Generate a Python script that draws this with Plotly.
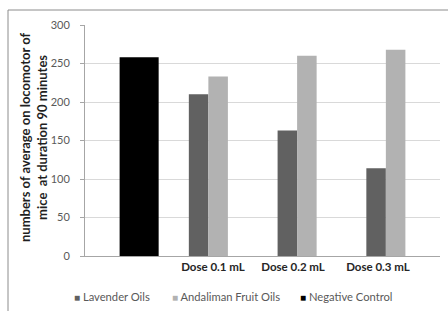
import plotly.graph_objects as go

categories = ["", "Dose 0.1 mL", "Dose 0.2 mL", "Dose 0.3 mL"]
series_names = ["Lavender Oils", "Andaliman Fruit Oils", "Negative Control"]
lavender_oils = [None, 210, 163, 114]
andaliman_fruit_oils = [None, 233, 260, 268]
negative_control = [258, None, None, None]
y_ticks = [0, 50, 100, 150, 200, 250, 300]

x_idx = list(range(len(categories)))
colors = ["#616161", "#b2b2b2", "#000000"]

L, R, T, B = 85, 8, 25, 55
W, H = 448, 311
pw, ph = W - L - R, H - T - B


def px_x(p):
    return (p - L) / pw


def px_y(p):
    return (H - B - p) / ph


fig = go.Figure()
fig.add_trace(go.Bar(x=x_idx, y=lavender_oils, name=series_names[0], marker_color=colors[0],
                     offset=-0.33, width=0.22, marker_line_width=0))
fig.add_trace(go.Bar(x=x_idx, y=andaliman_fruit_oils, name=series_names[1], marker_color=colors[1],
                     offset=-0.11, width=0.22, marker_line_width=0))
fig.add_trace(go.Bar(x=x_idx, y=negative_control, name=series_names[2], marker_color=colors[2],
                     offset=-0.11, width=0.44, marker_line_width=0))

label_shift = [0, -0.058, -0.156, -0.199]
tickvals = [i + s for i, s in zip(x_idx, label_shift)][1:]
ticktext = categories[1:]

annotations = [dict(text="numbers of average on locomotor of<br>mice  at duration 90 minutes",
                    xref="paper", yref="paper", x=px_x(33), y=px_y(138),
                    xanchor="center", yanchor="middle", textangle=-90, showarrow=False,
                    font=dict(family="Lato, sans-serif", size=13, color="#1f1f1f", weight="bold"))]

legend_x = [72, 170, 298]
for nm, col, lx in zip(series_names, colors, legend_x):
    annotations.append(dict(
        text=f"<span style='color:{col};font-size:10px'>\u25A0</span>\u00a0{nm}",
        xref="paper", yref="paper", x=px_x(lx), y=px_y(296), xanchor="left", yanchor="middle",
        showarrow=False, font=dict(family="Lato, sans-serif", size=11.2, color="#595959")))

fig.update_layout(
    width=W, height=H,
    margin=dict(l=L, r=R, t=T, b=B, autoexpand=False),
    paper_bgcolor="white", plot_bgcolor="white",
    barmode="overlay", showlegend=False,
    font=dict(family="Lato, sans-serif", color="#595959", size=11),
    xaxis=dict(range=[-0.5, 3.5], tickmode="array", tickvals=tickvals, ticktext=ticktext,
               showgrid=False, zeroline=False, showline=True, linecolor="#a6a6a6", linewidth=1,
               ticks="", automargin=False,
               tickfont=dict(family="Lato, sans-serif", size=11.5, color="#262626", weight="bold")),
    yaxis=dict(range=[0, 300], tickmode="array", tickvals=y_ticks, showgrid=True, gridcolor="#d9d9d9",
               gridwidth=1, zeroline=False, showline=True, linecolor="#a6a6a6", linewidth=1,
               ticks="outside", ticklen=4, tickcolor="#a6a6a6", ticklabelstandoff=8, automargin=False,
               tickfont=dict(family="Lato, sans-serif", size=11, color="#595959")),
    annotations=annotations,
    shapes=[dict(type="rect", xref="paper", yref="paper",
                 x0=px_x(8), x1=px_x(470), y0=px_y(330), y1=px_y(10),
                 line=dict(color="#8c8c8c", width=1), fillcolor="rgba(0,0,0,0)", layer="below")],
)

fig.write_html("out.html", config={"displayModeBar": False},
               post_script="document.body.style.margin='0';document.body.style.overflow='hidden';")
